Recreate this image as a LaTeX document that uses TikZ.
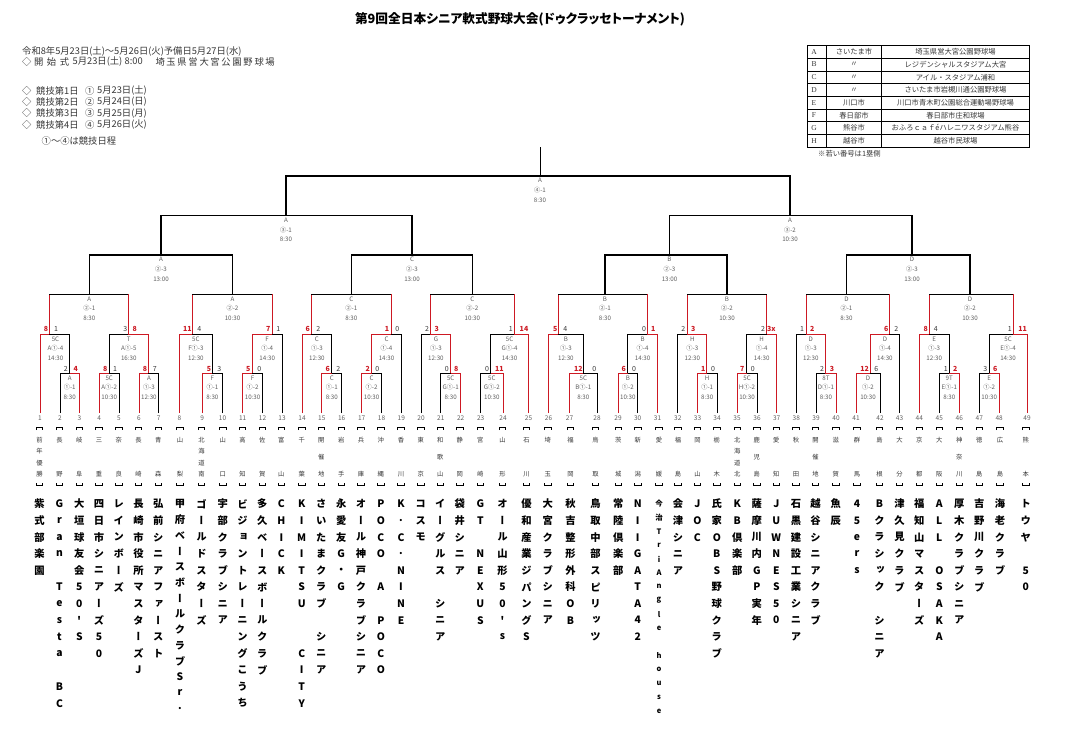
\documentclass[tikz,border=0pt]{standalone}
\usepackage{fontspec}
\newfontfamily\jp{Noto Sans CJK JP}
\newfontfamily\jpv{Noto Sans CJK JP}[RawFeature=+vert]
\newfontfamily\jpp{Noto Sans CJK JP}[RawFeature=+palt]
\newfontfamily\ser{Liberation Serif}
\definecolor{wred}{RGB}{205,25,35}
\definecolor{labg}{RGB}{95,95,95}
\definecolor{txtg}{RGB}{55,55,55}
\tikzset{
 bk/.style={draw=black, line width=0.8pt},
 rd/.style={draw=wred, line width=0.9pt},
 bkm/.style={draw=black, line width=1pt},
 bku/.style={draw=black, line width=1.3pt},
 lab/.style={font=\jp\fontsize{6.2}{7}\selectfont, text=labg, inner sep=0pt},
 scl/.style={font=\jp\fontsize{7}{8}\selectfont, text=txtg, inner sep=0pt},
 scw/.style={font=\jp\bfseries\fontsize{7}{8}\selectfont, text=wred, inner sep=0pt},
 num/.style={font=\jp\fontsize{6.5}{7}\selectfont, text=labg, inner sep=0pt},
 tm/.style={font=\jpv\bfseries\fontsize{10.3}{11}\selectfont, inner sep=0pt},
 pf/.style={font=\jpv\fontsize{6.3}{7}\selectfont, text=txtg, inner sep=0pt},
 brk/.style={draw=black, line width=0.7pt},
 hd/.style={font=\jp\fontsize{9.3}{10}\selectfont, anchor=west, inner sep=0pt, text=txtg},
 tb/.style={font=\jp\fontsize{7.3}{8}\selectfont, inner sep=0pt, text=txtg},
}
% played match, left wins / right wins
\newcommand\mtL[3]{\draw[bk] (#3) -- (#3 |- #1) -- (#1); \draw[rd] (#2) -- (#2 |- #1) -- (#1);}
\newcommand\mtR[3]{\draw[bk] (#2) -- (#2 |- #1) -- (#1); \draw[rd] (#3) -- (#3 |- #1) -- (#1);}
% unplayed match with played children
\newcommand\mtU[3]{\draw[rd] (#2) -- (#2 |- #1); \draw[rd] (#3) -- (#3 |- #1); \draw[bkm] (#2 |- #1) -- (#3 |- #1);}
% upper match
\newcommand\mtK[3]{\draw[bku] (#2) -- (#2 |- #1) -- (#3 |- #1) -- (#3);}
\newcommand\mlab[6]{\node[lab] (#1-t1) at (#2,{#3+4.6}) {#4};\node[lab] (#1-t2) at (#2,{#3+14.2}) {#5};\node[lab] (#1-t3) at (#2,{#3+24}) {#6};}
\newcommand\scL[6]{\node[scw] (#1-sl) at (#2,#4) {#5};\node[scl] (#1-sr) at (#3,#4) {#6};}
\newcommand\scR[6]{\node[scl] (#1-sl) at (#2,#4) {#5};\node[scw] (#1-sr) at (#3,#4) {#6};}
\newcommand\pcol[4]{%
 \foreach \ch [count=\k from 0] in {#4} {\node[pf] (p#1-\k) at (#2,{440+\k*34/(#3-1)}) {\ch};}
 \draw[brk] ({#2-3.2},430) -- ({#2-3.2},427.8) -- ({#2+3.2},427.8) -- ({#2+3.2},430);
 \draw[brk] ({#2-3.2},483) -- ({#2-3.2},485.2) -- ({#2+3.2},485.2) -- ({#2+3.2},483);}
\newcommand\tcol[5][]{%
 \foreach \ch [count=\k from 0] in {#5} {\node[tm,#1] (t#2-\k) at (#3,{504+\k*#4}) {\ch};}}
\newcommand\lsp{\hspace{1.7pt}}
\begin{document}
\begin{tikzpicture}[x=1pt,y=-1pt]
\fill[white] (0,0) rectangle (1081,728);
\useasboundingbox (0,0) rectangle (1081,728);

% ---------- title and header ----------
\node[font=\jpp\bfseries\fontsize{12.7}{15}\selectfont, inner sep=0pt] (title) at (520,19.5) {第9回全日本シニア軟式野球大会(ドゥクラッセトーナメント)};
\node[hd] (h1) at (22,51) {令和8年5月23日(土)～5月26日(火)予備日5月27日(水)};
\node[hd] (h2a) at (22,61.5) {◇};
\node[hd] (h2b) at (34,61.5) {開\hspace{3.5pt}始\hspace{3.5pt}式};
\node[hd] (h2c) at (72.5,61.5) {5月23日(土)};
\node[hd] (h2d) at (124.5,61.5) {8:00};
\node[hd,anchor=east] (h2e) at (275,61.5) {埼\lsp 玉\lsp 県\lsp 営\lsp 大\lsp 宮\lsp 公\lsp 園\lsp 野\lsp 球\lsp 場};
\foreach \k/\d/\m/\w/\y in {1/①/23/土/90.7,2/②/24/日/102,3/③/25/月/113.3,4/④/26/火/124.5}{
 \node[hd] (d\k a) at (22,\y) {◇};
 \node[hd] (d\k b) at (36,\y) {競技第\k 日};
 \node[hd] (d\k c) at (85,\y) {\d};
 \node[hd] (d\k d) at (97,\y) {5月\m 日(\w)};
}
\node[hd] (h7) at (41.5,141) {①～④は競技日程};

% ---------- venue table ----------
\draw[line width=0.5pt] (826.5,45.5) -- (826.5,147.1) (881.5,45.5) -- (881.5,147.1);
\foreach \k in {1,...,7} \draw[line width=0.5pt] (807,{45.5+12.7*\k}) -- (1029.5,{45.5+12.7*\k});
\draw[line width=0.9pt] (807,45.5) rectangle (1029.5,147.1);
\foreach \k/\l/\c/\v in {1/A/さいたま市/埼玉県営大宮公園野球場,2/B/〃/レジデンシャルスタジアム大宮,3/C/〃/アイル・スタジアム浦和,4/D/〃/さいたま市岩槻川通公園野球場,5/E/川口市/川口市青木町公園総合運動場野球場,6/F/春日部市/春日部市庄和球場,7/G/熊谷市/おふろｃａｆéハレニワスタジアム熊谷,8/H/越谷市/越谷市民球場}{
 \node[tb,font=\ser\fontsize{7.5}{8}\selectfont] (tl\k) at (814,{45.5+12.7*(\k-0.5)}) {\l};
 \node[tb] (tc\k) at (854,{45.5+12.7*(\k-0.5)}) {\c};
 \node[tb] (tv\k) at (955.5,{45.5+12.7*(\k-0.5)}) {\v};
}
\node[tb,anchor=west] (note) at (818,154) {※若い番号は1塁側};

% ---------- leaves ----------
\foreach \i/\x in {1/40,2/60,3/79.5,4/99.3,5/119,6/139,7/158.7,8/179.5,9/202.3,10/222.5,11/242.7,12/262.5,13/282,14/302,15/321.8,16/341.7,17/361.7,18/381.5,19/401.3,20/421,21/440.8,22/460.7,23/480.7,24/503,25/528.5,26/548.5,27/569.5,28/597,29/618,30/637.7,31/657.5,32/677.8,33/697.5,34/717,35/737,36/757,37/776.7,38/796.3,39/816,40/836,41/856,42/880,43/899.5,44/919.3,45/939.3,46/959.3,47/979.3,48/999.2,49/1027}{
 \coordinate (L\i) at (\x,413);
 \node[num] (n\i) at (\x,418) {\i};
}

% ---------- match points ----------
\foreach \m/\x in {a1/69.7,a2/109.3,a3/148.3,f1/212.3,f2/252.3,c1/331.7,c2/371.7,g1/450.7,g2/490.7,b1/583.3,b2/627.7,h1/706.7,h2/746.7,d1/825.3,d2/870.3,e1/949,e2/989}
 \coordinate (\m) at (\x,373.3);
\foreach \m/\x in {A4/49.3,A5/128.3,F3/192.3,F4/272.3,C3/311,C4/391,G3/430.3,G4/514.3,B3/558.3,B4/647.3,H3/687.3,H4/766.7,D3/806,D4/889.3,E3/929.3,E4/1013.3}
 \coordinate (\m) at (\x,334.3);
\foreach \m/\x in {A21/89.3,A22/232.5,C21/351.3,C22/472.3,B21/605,B22/727,D21/846.5,D22/970}
 \coordinate (\m) at (\x,294.3);
\foreach \m/\x in {A23/161,C23/412,B23/669.5,D23/912}
 \coordinate (\m) at (\x,255);
\coordinate (A31) at (286,215.5);
\coordinate (A32) at (790,215.5);
\coordinate (A41) at (540,176);
\coordinate (top) at (540,147);

% ---------- bracket lines ----------
\mtR{a1}{L2}{L3}
\mtL{a2}{L4}{L5}
\mtL{a3}{L6}{L7}
\mtL{f1}{L9}{L10}
\mtL{f2}{L11}{L12}
\mtL{c1}{L15}{L16}
\mtL{c2}{L17}{L18}
\mtR{g1}{L21}{L22}
\mtR{g2}{L23}{L24}
\mtL{b1}{L27}{L28}
\mtL{b2}{L29}{L30}
\mtL{h1}{L33}{L34}
\mtL{h2}{L35}{L36}
\mtR{d1}{L39}{L40}
\mtL{d2}{L41}{L42}
\mtR{e1}{L45}{L46}
\mtR{e2}{L47}{L48}

\mtL{A4}{L1}{a1}
\mtR{A5}{a2}{a3}
\mtL{F3}{L8}{f1}
\mtL{F4}{f2}{L13}
\mtL{C3}{L14}{c1}
\mtL{C4}{c2}{L19}
\mtR{G3}{L20}{g1}
\mtR{G4}{g2}{L25}
\mtL{B3}{L26}{b1}
\mtR{B4}{b2}{L31}
\mtR{H3}{L32}{h1}
\mtR{H4}{h2}{L37}
\mtR{D3}{L38}{d1}
\mtL{D4}{d2}{L43}
\mtL{E3}{L44}{e1}
\mtR{E4}{e2}{L49}

\mtU{A21}{A4}{A5}
\mtU{A22}{F3}{F4}
\mtU{C21}{C3}{C4}
\mtU{C22}{G3}{G4}
\mtU{B21}{B3}{B4}
\mtU{B22}{H3}{H4}
\mtU{D21}{D3}{D4}
\mtU{D22}{E3}{E4}

\mtK{A23}{A21}{A22}
\mtK{C23}{C21}{C22}
\mtK{B23}{B21}{B22}
\mtK{D23}{D21}{D22}
\mtK{A31}{A23}{C23}
\mtK{A32}{B23}{D23}
\mtK{A41}{A31}{A32}
\draw[bk] (A41) -- (top);

% ---------- match labels ----------
\mlab{a1}{69.7}{373.3}{A}{①-1}{8:30}
\mlab{a2}{109.2}{373.3}{5C}{A①-2}{10:30}
\mlab{a3}{148.9}{373.3}{A}{①-3}{12:30}
\mlab{f1}{212.4}{373.3}{F}{①-1}{8:30}
\mlab{f2}{252.6}{373.3}{F}{①-2}{10:30}
\mlab{c1}{331.8}{373.3}{C}{①-1}{8:30}
\mlab{c2}{371.6}{373.3}{C}{①-2}{10:30}
\mlab{g1}{450.7}{373.3}{5C}{G①-1}{8:30}
\mlab{g2}{491.8}{373.3}{5C}{G①-2}{10:30}
\mlab{b1}{583.3}{373.3}{5C}{B①-1}{8:30}
\mlab{b2}{627.8}{373.3}{B}{①-2}{10:30}
\mlab{h1}{707.2}{373.3}{H}{①-1}{8:30}
\mlab{h2}{747}{373.3}{5C}{H①-2}{10:30}
\mlab{d1}{826}{373.3}{8T}{D①-1}{8:30}
\mlab{d2}{868}{373.3}{D}{①-2}{10:30}
\mlab{e1}{949.3}{373.3}{9T}{E①-1}{8:30}
\mlab{e2}{989.2}{373.3}{E}{①-2}{10:30}

\mlab{A4}{55.5}{334.3}{5C}{A①-4}{14:30}
\mlab{A5}{128.8}{334.3}{T}{A①-5}{16:30}
\mlab{F3}{195.9}{334.3}{5C}{F①-3}{12:30}
\mlab{F4}{267.2}{334.3}{F}{①-4}{14:30}
\mlab{C3}{316.9}{334.3}{C}{①-3}{12:30}
\mlab{C4}{386.5}{334.3}{C}{①-4}{14:30}
\mlab{G3}{435.9}{334.3}{G}{①-3}{12:30}
\mlab{G4}{509.6}{334.3}{5C}{G①-4}{14:30}
\mlab{B3}{565.9}{334.3}{B}{①-3}{12:30}
\mlab{B4}{642.6}{334.3}{B}{①-4}{14:30}
\mlab{H3}{692.3}{334.3}{H}{①-3}{12:30}
\mlab{H4}{761.7}{334.3}{H}{①-4}{14:30}
\mlab{D3}{810.8}{334.3}{D}{①-3}{12:30}
\mlab{D4}{884.9}{334.3}{D}{①-4}{14:30}
\mlab{E3}{934.2}{334.3}{E}{①-3}{12:30}
\mlab{E4}{1008}{334.3}{5C}{E①-4}{14:30}

\mlab{A21}{89.3}{294.3}{A}{②-1}{8:30}
\mlab{A22}{232.5}{294.3}{A}{②-2}{10:30}
\mlab{C21}{351.3}{294.3}{C}{②-1}{8:30}
\mlab{C22}{472.3}{294.3}{C}{②-2}{10:30}
\mlab{B21}{605}{294.3}{B}{②-1}{8:30}
\mlab{B22}{727}{294.3}{B}{②-2}{10:30}
\mlab{D21}{846.5}{294.3}{D}{②-1}{8:30}
\mlab{D22}{970}{294.3}{D}{②-2}{10:30}
\mlab{A23}{161}{255}{A}{②-3}{13:00}
\mlab{C23}{412}{255}{C}{②-3}{13:00}
\mlab{B23}{669.5}{255}{B}{②-3}{13:00}
\mlab{D23}{912}{255}{D}{②-3}{13:00}
\mlab{A31}{286}{215.5}{A}{③-1}{8:30}
\mlab{A32}{790}{215.5}{A}{③-2}{10:30}
\mlab{A41}{540}{176}{A}{④-1}{8:30}

% ---------- scores ----------
\scR{a1}{65.7}{75.7}{369}{2}{4}
\scL{a2}{105.3}{115}{369}{8}{1}
\scL{a3}{145}{154.7}{369}{8}{7}
\scL{f1}{209}{219.3}{369}{5}{3}
\scL{f2}{248.3}{259.3}{369}{5}{0}
\scL{c1}{327.7}{338.3}{369}{6}{2}
\scL{c2}{367.7}{377.3}{369}{2}{0}
\scR{g1}{446.7}{456.3}{369}{0}{8}
\scR{g2}{487}{499.3}{369}{0}{11}
\scL{b1}{578.3}{594.3}{369}{12}{0}
\scL{b2}{623.7}{634}{369}{6}{0}
\scL{h1}{703.3}{713}{369}{1}{0}
\scL{h2}{742.3}{752.7}{369}{7}{0}
\scR{d1}{822}{832}{369}{2}{3}
\scL{d2}{864.7}{876.3}{369}{12}{6}
\scR{e1}{945.7}{955.3}{369}{1}{2}
\scR{e2}{985.3}{995.3}{369}{3}{6}
\scL{A4}{46}{56}{329}{8}{1}
\scR{A5}{125.3}{134.7}{329}{3}{8}
\scL{F3}{187.3}{199.3}{329}{11}{4}
\scL{F4}{268.3}{278.3}{329}{7}{1}
\scL{C3}{307.7}{318.3}{329}{6}{2}
\scL{C4}{387}{397.3}{329}{1}{0}
\scR{G3}{427}{436.7}{329}{2}{3}
\scR{G4}{510.7}{524}{329}{1}{14}
\scL{B3}{555.3}{565.3}{329}{5}{4}
\scR{B4}{644}{653.3}{329}{0}{1}
\scR{H3}{683.3}{693.3}{329}{2}{3}
\scR{H4}{763}{771.3}{329}{2}{3x}
\scR{D3}{802}{812.3}{329}{1}{2}
\scL{D4}{886.3}{896.3}{329}{6}{2}
\scL{E3}{925.7}{935.7}{329}{8}{4}
\scR{E4}{1009.7}{1022.7}{329}{1}{11}

% ---------- prefectures ----------
\pcol{1}{39.5}{4}{前,年,優,勝}
\pcol{2}{59.5}{2}{長,野}
\pcol{3}{79.3}{2}{岐,阜}
\pcol{4}{99}{2}{三,重}
\pcol{5}{118.7}{2}{奈,良}
\pcol{6}{138.5}{2}{長,崎}
\pcol{7}{158.3}{2}{青,森}
\pcol{8}{180}{2}{山,梨}
\pcol{9}{201.5}{4}{北,海,道,南}
\pcol{10}{222.7}{2}{山,口}
\pcol{11}{242.5}{2}{高,知}
\pcol{12}{262.3}{2}{佐,賀}
\pcol{13}{281.3}{2}{富,山}
\pcol{14}{301.7}{2}{千,葉}
\pcol{15}{321.3}{3}{開,催,地}
\pcol{16}{341.2}{2}{岩,手}
\pcol{17}{361}{2}{兵,庫}
\pcol{18}{380.8}{2}{沖,縄}
\pcol{19}{401}{2}{香,川}
\pcol{20}{420.8}{2}{東,京}
\pcol{21}{440.3}{3}{和,歌,山}
\pcol{22}{459.7}{2}{静,岡}
\pcol{23}{480.3}{2}{宮,崎}
\pcol{24}{502.5}{2}{山,形}
\pcol{25}{526.5}{2}{石,川}
\pcol{26}{547.7}{2}{埼,玉}
\pcol{27}{570.5}{2}{福,岡}
\pcol{28}{595.5}{2}{鳥,取}
\pcol{29}{618.3}{2}{茨,城}
\pcol{30}{637.7}{2}{新,潟}
\pcol{31}{659}{2}{愛,媛}
\pcol{32}{678}{2}{福,島}
\pcol{33}{697.4}{2}{岡,山}
\pcol{34}{716.8}{2}{栃,木}
\pcol{35}{737.2}{4}{北,海,道,北}
\pcol{36}{756.8}{3}{鹿,児,島}
\pcol{37}{776.3}{2}{愛,知}
\pcol{38}{796}{2}{秋,田}
\pcol{39}{815.5}{3}{開,催,地}
\pcol{40}{835.8}{2}{滋,賀}
\pcol{41}{857}{2}{群,馬}
\pcol{42}{879.5}{2}{島,根}
\pcol{43}{899.4}{2}{大,分}
\pcol{44}{919.3}{2}{京,都}
\pcol{45}{939.3}{2}{大,阪}
\pcol{46}{959.3}{3}{神,奈,川}
\pcol{47}{979.2}{2}{徳,島}
\pcol{48}{1000}{2}{広,島}
\pcol{49}{1025.8}{2}{熊,本}

% ---------- team names ----------
\tcol{1}{39.5}{16.6}{紫,式,部,楽,園}
\tcol{2}{59.5}{16.6}{G,r,a,n,~,T,e,s,t,a,~,B,C}
\tcol{3}{79.3}{16.6}{大,垣,球,友,会,5,0,',S}
\tcol{4}{99}{16.6}{四,日,市,シ,ニ,ア,ー,ズ,5,0}
\tcol{5}{118.7}{16.6}{レ,イ,ン,ボ,ー,ズ}
\tcol{6}{138.5}{16.6}{長,崎,市,役,所,マ,ス,タ,ー,ズ,J}
\tcol{7}{158.3}{16.6}{弘,前,シ,ニ,ア,フ,ァ,ー,ス,ト}
\tcol{8}{180}{15.7}{甲,府,ベ,ー,ス,ボ,ー,ル,ク,ラ,ブ,S,r,.}
\tcol{9}{201.5}{16.6}{ゴ,ー,ル,ド,ス,タ,ー,ズ}
\tcol{10}{222.7}{16.6}{宇,部,ク,ラ,ブ,シ,ニ,ア}
\tcol{11}{242.5}{16.6}{ビ,ジ,ョ,ン,ト,レ,ー,ニ,ン,グ,こ,う,ち}
\tcol{12}{262.3}{16.6}{多,久,ベ,ー,ス,ボ,ー,ル,ク,ラ,ブ}
\tcol{13}{281.3}{16.6}{C,H,I,C,K}
\tcol{14}{301.7}{16.6}{K,I,M,I,T,S,U,~,~,C,I,T,Y}
\tcol{15}{321.3}{16.6}{さ,い,た,ま,ク,ラ,ブ,~,シ,ニ,ア}
\tcol{16}{341.2}{16.6}{永,愛,友,G,・,G}
\tcol{17}{361}{16.6}{オ,ー,ル,神,戸,ク,ラ,ブ,シ,ニ,ア}
\tcol{18}{380.8}{16.6}{P,O,C,O,~,A,~,P,O,C,O}
\tcol{19}{401}{16.6}{K,.,C,.,N,I,N,E}
\tcol{20}{420.8}{16.6}{コ,ス,モ}
\tcol{21}{440.3}{16.6}{イ,ー,グ,ル,ス,~,シ,ニ,ア}
\tcol{22}{459.7}{16.6}{袋,井,シ,ニ,ア}
\tcol{23}{480.3}{16.6}{G,T,~,N,E,X,U,S}
\tcol{24}{502.5}{16.6}{オ,ー,ル,山,形,5,0,',s}
\tcol{25}{526.5}{16.6}{優,和,産,業,ジ,パ,ン,グ,S}
\tcol{26}{547.7}{16.6}{大,宮,ク,ラ,ブ,シ,ニ,ア}
\tcol{27}{570.5}{16.6}{秋,吉,整,形,外,科,O,B}
\tcol{28}{595.5}{16.6}{鳥,取,中,部,ス,ピ,リ,ッ,ツ}
\tcol{29}{618.3}{16.6}{常,陸,倶,楽,部}
\tcol{30}{637.7}{16.6}{N,I,I,G,A,T,A,4,2}
\tcol[font=\jpv\bfseries\fontsize{7.5}{8}\selectfont]{31}{659}{13.8}{今,治,T,r,i,A,n,g,l,e,~,h,o,u,s,e}
\tcol{32}{678}{16.6}{会,津,シ,ニ,ア}
\tcol{33}{697.4}{16.6}{J,O,C}
\tcol{34}{716.8}{16.6}{氏,家,O,B,S,野,球,ク,ラ,ブ}
\tcol{35}{737.2}{16.6}{K,B,倶,楽,部}
\tcol{36}{756.8}{16.6}{薩,摩,川,内,G,P,実,年}
\tcol{37}{776.3}{16.6}{J,U,W,N,E,S,5,0}
\tcol{38}{796}{16.6}{石,黒,建,設,工,業,シ,ニ,ア}
\tcol{39}{815.5}{16.6}{越,谷,シ,ニ,ア,ク,ラ,ブ}
\tcol{40}{835.8}{16.6}{魚,辰}
\tcol{41}{857}{16.6}{4,5,e,r,s}
\tcol{42}{879.5}{16.6}{B,ク,ラ,シ,ッ,ク,~,シ,ニ,ア}
\tcol{43}{899.4}{16.6}{津,久,見,ク,ラ,ブ}
\tcol{44}{919.3}{16.6}{福,知,山,マ,ス,タ,ー,ズ}
\tcol{45}{939.3}{16.6}{A,L,L,~,O,S,A,K,A}
\tcol{46}{959.3}{16.6}{厚,木,ク,ラ,ブ,シ,ニ,ア}
\tcol{47}{979.2}{16.6}{吉,野,川,ク,ラ,ブ}
\tcol{48}{1000}{16.6}{海,老,ク,ラ,ブ}
\tcol{49}{1025.8}{16.6}{ト,ウ,ヤ,~,5,0}
\end{tikzpicture}
\end{document}
